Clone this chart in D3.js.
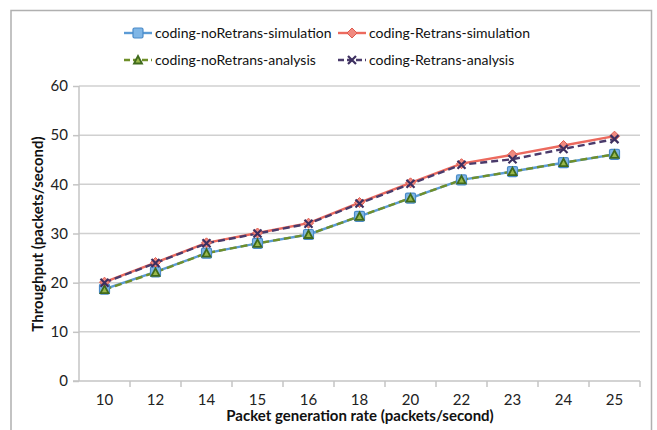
<!DOCTYPE html>
<html><head><meta charset="utf-8">
<script src="https://cdn.jsdelivr.net/npm/d3@7"></script>
<style>body{margin:0;background:#fff}svg{display:block}text{font-family:Lato,"Open Sans",sans-serif}</style>
</head><body><svg id="c" width="657" height="430"></svg>
<script>
const categories = ["10","12","14","15","16","18","20","22","23","24","25"];
const noRetransSim = [18.7,22.2,26.0,28.0,29.8,33.5,37.2,40.9,42.6,44.4,46.1];
const retransSim = [20.1,24.1,28.1,30.1,32.1,36.3,40.3,44.2,46.0,47.9,49.8];
const noRetransAna = [18.6,22.1,26.0,28.0,29.8,33.5,37.2,40.9,42.6,44.4,46.1];
const retransAna = [20.0,24.0,28.0,30.0,32.0,36.1,40.1,44.0,45.1,47.2,49.2];
const yTicks = [0,10,20,30,40,50,60];
const seriesNames = ["coding-noRetrans-simulation","coding-Retrans-simulation","coding-noRetrans-analysis","coding-Retrans-analysis"];

const svg = d3.select("#c");
const L=79,R=640,T=86,B=381;
const x = d3.scaleBand().domain(categories).range([L,R]);
const y = d3.scaleLinear().domain([0,60]).range([B,T]);

svg.append("path").attr("d","M11,440V10.5H651.5V440").attr("fill","none").attr("stroke","#b0b0b0").attr("stroke-width",1.5);

svg.append("g").selectAll("line").data(yTicks.filter(d=>d>0)).join("line")
 .attr("x1",L).attr("x2",R).attr("y1",d=>y(d)).attr("y2",d=>y(d))
 .attr("stroke","#d0d0d0").attr("stroke-width",1.5);

const xa = svg.append("g").attr("transform",`translate(0,${B})`)
 .call(d3.axisBottom(x).tickSize(0).tickPadding(13));
xa.select(".domain").attr("stroke","#c4c4c4").attr("stroke-width",1.5).attr("d",`M${L-6},0H${R}`);
xa.selectAll("text").attr("font-size",15).attr("fill","#222");
svg.append("g").selectAll("line").data(categories.slice(1)).join("line")
 .attr("x1",d=>x(d)).attr("x2",d=>x(d)).attr("y1",B).attr("y2",B+6)
 .attr("stroke","#c4c4c4").attr("stroke-width",1.5);
svg.append("line").attr("x1",R).attr("x2",R).attr("y1",B).attr("y2",B+6).attr("stroke","#c4c4c4").attr("stroke-width",1.5);

const ya = svg.append("g").attr("transform",`translate(${L},0)`)
 .call(d3.axisLeft(y).tickValues(yTicks).tickSize(6).tickPadding(5));
ya.select(".domain").attr("stroke","#c4c4c4").attr("stroke-width",1.5).attr("d",`M0,${T}V${B}`);
ya.selectAll(".tick line").attr("stroke","#c4c4c4").attr("stroke-width",1.5);
ya.selectAll("text").attr("font-size",15).attr("fill","#222");

svg.append("text").attr("x",360).attr("y",421).attr("text-anchor","middle")
 .attr("font-size",15).attr("font-weight","bold").attr("fill","#111").text("Packet generation rate (packets/second)");
svg.append("text").attr("transform","translate(43,234) rotate(-90)").attr("text-anchor","middle")
 .attr("font-size",15).attr("font-weight","bold").attr("fill","#111").text("Throughput (packets/second)");

const cx = (d,i)=>x(categories[i])+x.bandwidth()/2;
const line = d3.line().x((d,i)=>cx(d,i)).y(d=>y(d));

const styles = [
 {data:noRetransSim,color:"#5b9bd5",dash:null,marker:"square"},
 {data:retransSim,color:"#ec6a5e",dash:null,marker:"diamond"},
 {data:noRetransAna,color:"#6f8f2a",dash:"7,4",marker:"triangle"},
 {data:retransAna,color:"#4a3b6b",dash:"7,4",marker:"x"}
];

function drawMarker(g,type){
 if(type==="square"){
  g.append("rect").attr("x",-5).attr("y",-5).attr("width",10).attr("height",10).attr("rx",1.5)
   .attr("fill","#7fb6e6").attr("stroke","#4a8ac8").attr("stroke-width",1.2);
 } else if(type==="diamond"){
  g.append("path").attr("d","M0,-5L5,0L0,5L-5,0Z").attr("fill","#f08a80").attr("stroke","#e05a4e").attr("stroke-width",1);
 } else if(type==="triangle"){
  g.append("path").attr("d","M0,-4L4,3.5L-4,3.5Z").attr("fill","#9ab84a").attr("stroke","#3f6a1c").attr("stroke-width",1.8);
 } else {
  g.append("path").attr("d","M-4,-4L4,4M-4,4L4,-4").attr("stroke","#3d2f60").attr("stroke-width",2.2);
 }
}

styles.forEach(s=>{
 svg.append("path").datum(s.data).attr("d",line).attr("fill","none")
  .attr("stroke",s.color).attr("stroke-width",2.4).attr("stroke-dasharray",s.dash);
});
styles.forEach(s=>{
 s.data.forEach((d,i)=>{
  const g = svg.append("g").attr("transform",`translate(${cx(d,i)},${y(d)})`);
  drawMarker(g,s.marker);
 });
});

const legPos = [[124,33],[338,33],[124,60],[338,60]];
styles.forEach((s,i)=>{
 const [lx,ly]=legPos[i];
 const g = svg.append("g").attr("transform",`translate(${lx},${ly})`);
 g.append("line").attr("x1",0).attr("x2",28).attr("y1",0).attr("y2",0)
  .attr("stroke",s.color).attr("stroke-width",2.4).attr("stroke-dasharray",s.dash?"6,3":null);
 const m = g.append("g").attr("transform","translate(14,0)");
 drawMarker(m,s.marker);
 g.append("text").attr("x",31).attr("y",5).attr("font-size",14).attr("fill","#111").text(seriesNames[i]);
});
</script></body></html>
